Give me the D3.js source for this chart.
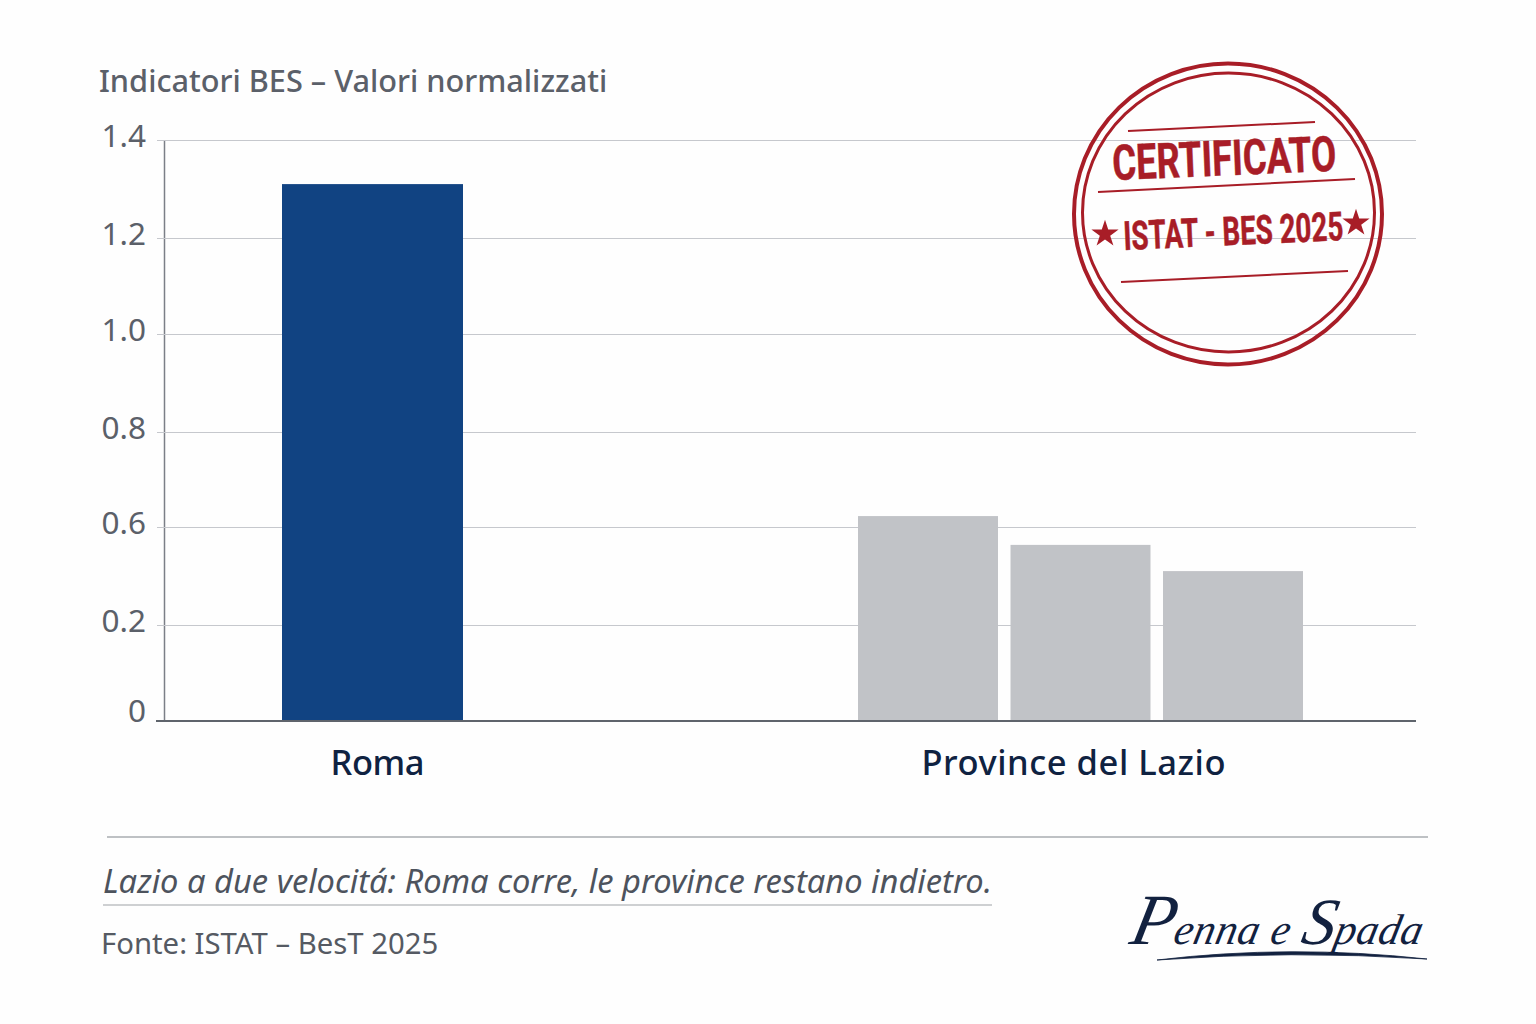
<!DOCTYPE html>
<html lang="it">
<head>
<meta charset="utf-8">
<script src="https://d3js.org/d3.v7.min.js"></script>
<style>
html,body{margin:0;padding:0;background:#fefefe;}
svg{display:block;font-family:"Noto Sans",sans-serif;}
</style>
</head>
<body>
<svg id="chart" width="1536" height="1024"></svg>
<script>
// --- data ---
const chartTitle = "Indicatori BES – Valori normalizzati";
const yTickLabels = ["0", "0.2", "0.6", "0.8", "1.0", "1.2", "1.4"];
const yTickValues = [0, 0.2, 0.6, 0.8, 1.0, 1.2, 1.4];
const groups = ["Roma", "Province del Lazio"];
const romaValues = [1.31];
const provinceValues = [0.623, 0.527, 0.42];
const caption = "Lazio a due velocitá: Roma corre, le province restano indietro.";
const source = "Fonte: ISTAT – BesT 2025";
const stampLines = ["CERTIFICATO", "ISTAT - BES 2025"];
const signatureParts = ["P", "enna e ", "S", "pada"];

const svg = d3.select("#chart");
const left = 164, right = 1416;

// The printed axis is irregular (0.4 is missing): ticks stay evenly spaced on screen
const y = d3.scaleLinear().domain(yTickValues).range([721, 625, 527, 432, 334, 238, 140]);

const yAxis = d3.axisLeft(y)
  .tickValues(yTickValues)
  .tickFormat((d, i) => yTickLabels[i])
  .tickSize(-(right - left))
  .tickSizeOuter(0);

const gy = svg.append("g").attr("transform", `translate(${left},0)`).call(yAxis);
gy.select(".domain").attr("stroke", "#7b7f87").attr("stroke-width", 1.5);
gy.selectAll(".tick line").attr("stroke", "#c6c8cd").attr("stroke-width", 1.2).attr("x1", -7);
gy.selectAll(".tick text")
  .attr("x", -18)
  .attr("dy", d => d === 0 ? "0.03em" : "0.2em")
  .attr("font-size", 31.5)
  .attr("font-family", '"Noto Sans",sans-serif')
  .attr("fill", "#5b6069");

// Group positions and bars
const xGroup = d3.scalePoint().domain(groups).range([372.5, 1080.5]);
const romaWidth = 181, provinceSpan = 445;
const xProvince = d3.scaleBand()
  .domain(d3.range(provinceValues.length))
  .range([xGroup(groups[1]) - provinceSpan / 2, xGroup(groups[1]) + provinceSpan / 2])
  .paddingInner(0.082);

svg.append("g").selectAll("rect").data(romaValues).join("rect")
  .attr("x", xGroup(groups[0]) - romaWidth / 2)
  .attr("width", romaWidth)
  .attr("y", d => y(d))
  .attr("height", d => y(0) - y(d))
  .attr("fill", "#114382");

svg.append("g").selectAll("rect").data(provinceValues).join("rect")
  .attr("x", (d, i) => xProvince(i))
  .attr("width", xProvince.bandwidth())
  .attr("y", d => y(d))
  .attr("height", d => y(0) - y(d))
  .attr("fill", "#c1c3c7");

// Baseline
svg.append("line")
  .attr("x1", left - 8).attr("x2", right)
  .attr("y1", y(0)).attr("y2", y(0))
  .attr("stroke", "#5f646c").attr("stroke-width", 2);

// Category labels
const labelShift = [5, -7];
const labelWidth = [94, 304];
svg.append("g").selectAll("text").data(groups).join("text")
  .attr("x", (d, i) => xGroup(d) + labelShift[i])
  .attr("y", 775)
  .attr("text-anchor", "middle")
  .attr("font-size", 34.5)
  .attr("font-weight", 500)
  .attr("fill", "#0f2241")
  .attr("textLength", (d, i) => labelWidth[i])
  .attr("lengthAdjust", "spacing")
  .text(d => d);

// Title
svg.append("text").attr("x", 99).attr("y", 92)
  .attr("font-size", 30.7).attr("font-weight", 500).attr("fill", "#5b6069")
  .text(chartTitle);

// Footer
svg.append("line").attr("x1", 107).attr("x2", 1428).attr("y1", 837).attr("y2", 837)
  .attr("stroke", "#a9acb1").attr("stroke-width", 1.5);
svg.append("text").attr("x", 103).attr("y", 893)
  .attr("font-size", 33).attr("font-style", "italic").attr("fill", "#4d535d")
  .attr("textLength", 889).attr("lengthAdjust", "spacingAndGlyphs")
  .text(caption);
svg.append("line").attr("x1", 103).attr("x2", 992).attr("y1", 905).attr("y2", 905)
  .attr("stroke", "#9ea1a6").attr("stroke-width", 1.2);
svg.append("text").attr("x", 101).attr("y", 954)
  .attr("font-size", 29.3).attr("fill", "#555a63")
  .text(source);

// Stamp
const red = "#a81d27";
const stamp = svg.append("g");
stamp.append("ellipse").attr("cx", 1228).attr("cy", 214).attr("rx", 154).attr("ry", 150.5)
  .attr("fill", "none").attr("stroke", red).attr("stroke-width", 4);
stamp.append("ellipse").attr("cx", 1228.5).attr("cy", 212.5).attr("rx", 146).attr("ry", 139.5)
  .attr("fill", "none").attr("stroke", red).attr("stroke-width", 3);
[[1128, 131, 1315, 122], [1098, 192, 1355, 179], [1121, 282, 1348, 271]].forEach(l => {
  stamp.append("line").attr("x1", l[0]).attr("y1", l[1]).attr("x2", l[2]).attr("y2", l[3])
    .attr("stroke", red).attr("stroke-width", 2);
});
const stampFont = '"Roboto",sans-serif';
stamp.append("text")
  .attr("transform", "translate(1113,180) rotate(-2.4)")
  .attr("font-family", stampFont).attr("font-weight", 700).attr("font-size", 49)
  .attr("fill", red).attr("stroke", red).attr("stroke-width", 0.5)
  .attr("textLength", 224).attr("lengthAdjust", "spacingAndGlyphs")
  .text(stampLines[0]);
stamp.append("text")
  .attr("transform", "translate(1124,250) rotate(-2.6)")
  .attr("font-family", stampFont).attr("font-weight", 700).attr("font-size", 40)
  .attr("fill", red).attr("stroke", red).attr("stroke-width", 0.5)
  .attr("textLength", 220).attr("lengthAdjust", "spacingAndGlyphs")
  .text(stampLines[1]);
const star = d3.symbol().type(d3.symbolStar).size(230);
[[1105, 234], [1356, 223]].forEach(p => {
  stamp.append("path").attr("d", star()).attr("transform", `translate(${p[0]},${p[1]})`).attr("fill", red);
});

// Signature
const navy = "#12213f";
const sig = svg.append("text")
  .attr("transform", "translate(1128,944) skewX(-12)")
  .attr("font-family", '"Liberation Serif",serif').attr("font-style", "italic")
  .attr("font-size", 43).attr("fill", navy);
sig.selectAll("tspan").data(signatureParts).join("tspan")
  .attr("font-size", (d, i) => i % 2 === 0 ? (i === 0 ? 72 : 66) : 43)
  .attr("letter-spacing", (d, i) => i % 2 === 0 ? 0 : 0.5)
  .text(d => d);
svg.append("path")
  .attr("d", "M1157,960 Q1290,944 1427,959 Q1290,950 1157,960 Z")
  .attr("fill", navy).attr("stroke", navy).attr("stroke-width", 0.8);
</script>
</body>
</html>
